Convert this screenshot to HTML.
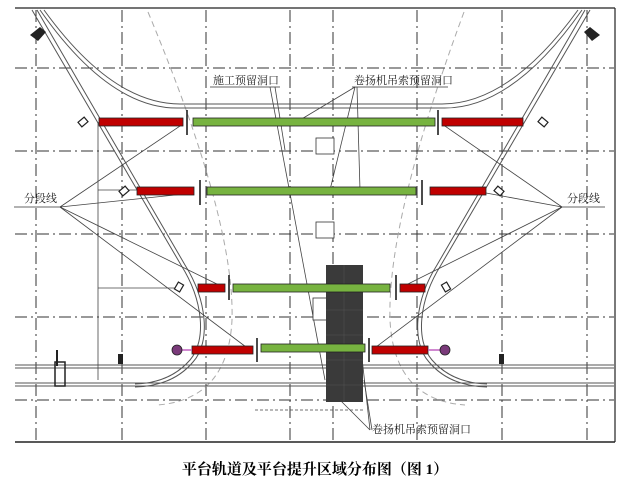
<!DOCTYPE html>
<html><head><meta charset="utf-8"><style>
html,body{margin:0;padding:0;background:#fff;width:631px;height:494px;overflow:hidden}
</style></head><body>
<svg width="631" height="494" viewBox="0 0 631 494" xmlns="http://www.w3.org/2000/svg" font-family="Liberation Serif, 'Noto Serif CJK SC', serif">
<rect width="631" height="494" fill="#fff"/>
<line x1="15" y1="8" x2="615" y2="8" stroke="#222" stroke-width="1.2"/>
<line x1="615" y1="8" x2="615" y2="442" stroke="#222" stroke-width="1.2"/>
<line x1="15" y1="442" x2="615" y2="442" stroke="#222" stroke-width="1.5"/>
<g stroke="#333" stroke-width="1" stroke-dasharray="12,4,2,4">
<line x1="36" y1="10" x2="36" y2="440"/><line x1="122" y1="10" x2="122" y2="440"/>
<line x1="206" y1="10" x2="206" y2="440"/><line x1="290" y1="10" x2="290" y2="440"/>
<line x1="333" y1="10" x2="333" y2="440"/><line x1="417" y1="10" x2="417" y2="440"/>
<line x1="502" y1="10" x2="502" y2="440"/><line x1="587" y1="10" x2="587" y2="440"/>
<line x1="15" y1="68" x2="614" y2="68"/><line x1="15" y1="151" x2="614" y2="151"/>
<line x1="15" y1="234" x2="614" y2="234"/><line x1="15" y1="317" x2="614" y2="317"/>
<line x1="15" y1="400" x2="614" y2="400"/>
</g>
<g stroke="#aaa" stroke-width="1" fill="none" stroke-dasharray="6,4">
<path d="M148 12 Q235 220 232 320 Q228 400 157 405"/>
<path d="M464 12 Q387 220 390 320 Q394 400 465 405"/>
</g>
<g stroke="#555" stroke-width="1" fill="none">
<line x1="15" y1="365" x2="614" y2="365"/><line x1="15" y1="368" x2="614" y2="368"/>
<line x1="15" y1="383" x2="614" y2="383"/><line x1="15" y1="386" x2="614" y2="386"/>
<path d="M40 10 Q110 110 180 108 L442 108 Q512 110 582 10"/>
<path d="M44 10 Q112 104 180 104 L442 104 Q510 104 578 10"/>
<path d="M32 10 L181 265 C203 300 207 340 190 360 Q170 383 135 384"/>
<path d="M37 10 L185 265 C207 300 211 342 193 362 Q173 386 135 387"/>
<path d="M590 10 L441 265 C419 300 415 340 432 360 Q452 383 487 384"/>
<path d="M585 10 L437 265 C415 300 411 342 429 362 Q449 386 487 387"/>
</g>
<g stroke="#444" stroke-width="0.8" fill="none">
<line x1="270" y1="87" x2="325" y2="380"/><line x1="275" y1="87" x2="285" y2="150"/>
<line x1="355" y1="87" x2="300" y2="120"/><line x1="355" y1="87" x2="330" y2="190"/><line x1="357" y1="87" x2="360" y2="190"/>
<line x1="60" y1="207" x2="183" y2="124"/><line x1="60" y1="207" x2="194" y2="193"/><line x1="60" y1="207" x2="225" y2="288"/><line x1="60" y1="207" x2="250" y2="350"/>
<line x1="562" y1="207" x2="442" y2="124"/><line x1="562" y1="207" x2="486" y2="193"/><line x1="562" y1="207" x2="400" y2="288"/><line x1="562" y1="207" x2="372" y2="350"/>
<line x1="370" y1="430" x2="330" y2="390"/><line x1="370" y1="430" x2="360" y2="340"/><line x1="372" y1="430" x2="364" y2="380"/>
<line x1="98" y1="122" x2="98" y2="380"/><line x1="98" y1="190" x2="137" y2="190"/><line x1="98" y1="288" x2="175" y2="288"/>
<line x1="255" y1="410" x2="365" y2="410" stroke-dasharray="3,2"/>
</g>
<g stroke="#333" fill="#fff" stroke-width="0.8">
<rect x="316" y="138" width="18" height="16"/><rect x="316" y="222" width="18" height="16"/><rect x="313" y="298" width="14" height="22"/>
</g>
<rect x="326" y="265" width="37" height="137" fill="#3a3a3a"/>
<g stroke="#555" stroke-width="0.5"><line x1="326" y1="285" x2="363" y2="285"/><line x1="326" y1="310" x2="363" y2="310"/><line x1="326" y1="335" x2="363" y2="335"/><line x1="326" y1="360" x2="363" y2="360"/><line x1="326" y1="385" x2="363" y2="385"/><line x1="344" y1="265" x2="344" y2="402"/></g>
<g stroke="#222" stroke-width="0.8">
<rect x="99" y="118" width="84" height="8" fill="#c00000"/><rect x="193" y="118" width="242" height="8" fill="#77b340"/><rect x="442" y="118" width="81" height="8" fill="#c00000"/>
<rect x="137" y="187" width="57" height="8" fill="#c00000"/><rect x="207" y="187" width="209" height="8" fill="#77b340"/><rect x="430" y="187" width="56" height="8" fill="#c00000"/>
<rect x="198" y="284" width="27" height="8" fill="#c00000"/><rect x="233" y="284" width="157" height="8" fill="#77b340"/><rect x="400" y="284" width="25" height="8" fill="#c00000"/>
<rect x="192" y="346" width="61" height="8" fill="#c00000"/><rect x="261" y="344" width="104" height="8" fill="#77b340"/><rect x="372" y="346" width="56" height="8" fill="#c00000"/>
</g>
<g stroke="#111" stroke-width="1.5">
<line x1="187" y1="110" x2="187" y2="135"/><line x1="438" y1="110" x2="438" y2="135"/>
<line x1="200" y1="180" x2="200" y2="205"/><line x1="422" y1="180" x2="422" y2="205"/>
<line x1="229" y1="275" x2="229" y2="300"/><line x1="396" y1="275" x2="396" y2="300"/>
<line x1="257" y1="338" x2="257" y2="362"/><line x1="369" y1="338" x2="369" y2="362"/>
</g>
<g stroke="#c060c0" stroke-width="1.5"><line x1="180" y1="350" x2="192" y2="350"/><line x1="428" y1="350" x2="444" y2="350"/></g>
<g fill="#7a3a7a" stroke="#222" stroke-width="0.8"><circle cx="177" cy="350" r="5"/><circle cx="445" cy="350" r="5"/></g>
<g fill="#fff" stroke="#222" stroke-width="1.2">
<rect x="79" y="119" width="8" height="6" transform="rotate(-40 83 122)"/><rect x="539" y="119" width="8" height="6" transform="rotate(40 543 122)"/>
<rect x="120" y="188" width="8" height="6" transform="rotate(-40 124 191)"/><rect x="495" y="188" width="8" height="6" transform="rotate(40 499 191)"/>
<rect x="176" y="283" width="6" height="8" transform="rotate(30 179 287)"/><rect x="443" y="283" width="6" height="8" transform="rotate(-30 446 287)"/>
</g>
<rect x="118" y="354" width="5" height="10" fill="#222"/><rect x="499" y="354" width="5" height="10" fill="#222"/>
<rect x="55" y="362" width="10" height="24" fill="none" stroke="#222" stroke-width="1.5"/>
<line x1="57" y1="350" x2="57" y2="366" stroke="#222" stroke-width="2"/>
<path d="M30 35 l10 -8 l6 5 l-8 9z" fill="#222"/><path d="M600 35 l-10 -8 l-6 5 l8 9z" fill="#222"/>
<g font-size="11" fill="#222">
<text x="213" y="84">施工预留洞口</text><line x1="210" y1="87" x2="280" y2="87" stroke="#333" stroke-width="0.8"/>
<text x="354" y="84">卷扬机吊索预留洞口</text><line x1="352" y1="87" x2="448" y2="87" stroke="#333" stroke-width="0.8"/>
<text x="24" y="202">分段线</text><line x1="14" y1="207" x2="62" y2="207" stroke="#333" stroke-width="0.8"/>
<text x="567" y="202">分段线</text><line x1="560" y1="207" x2="605" y2="207" stroke="#333" stroke-width="0.8"/>
<text x="372" y="433">卷扬机吊索预留洞口</text>
</g>
<text x="315" y="474" font-size="15" font-weight="bold" text-anchor="middle" fill="#000">平台轨道及平台提升区域分布图（图 1）</text>
</svg>
</body></html>
